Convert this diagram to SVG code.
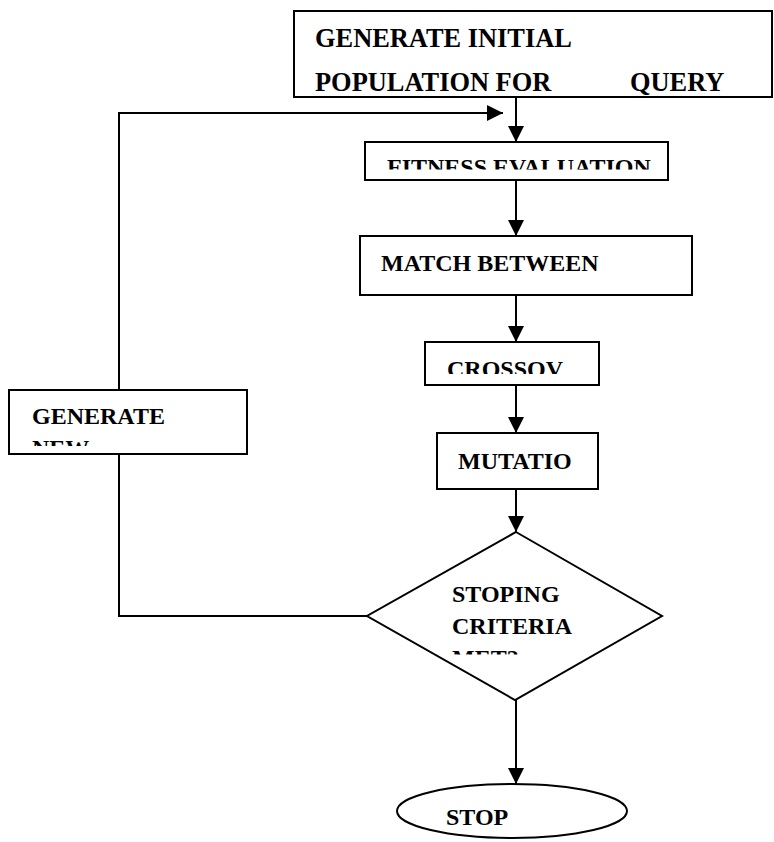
<svg xmlns="http://www.w3.org/2000/svg" width="774" height="842" viewBox="0 0 774 842">
<style>
.box{fill:#fff;stroke:#000;stroke-width:2}
.ln{fill:none;stroke:#000;stroke-width:2}
text{font-family:"Liberation Serif","Times New Roman","DejaVu Serif",serif;font-weight:bold;font-size:24px;fill:#000}
.tl{font-size:26.4px}
</style>
<defs>
<marker id="ah" viewBox="0 0 16 16" refX="16" refY="8" markerWidth="16" markerHeight="16" markerUnits="userSpaceOnUse" orient="auto">
<path d="M0,0 L16,8 L0,16 Z" fill="#000"/>
</marker>
<clipPath id="cFit"><rect x="365" y="143" width="302" height="26.5"/></clipPath>
<clipPath id="cMatch"><rect x="361" y="237" width="330" height="49"/></clipPath>
<clipPath id="cCross"><rect x="426" y="343" width="172" height="31"/></clipPath>
<clipPath id="cGen"><rect x="10" y="391" width="236" height="55"/></clipPath>
<clipPath id="cDia"><rect x="380" y="570" width="260" height="84.5"/></clipPath>
</defs>
<g id="connectors">
<line class="ln" x1="516" y1="97" x2="516" y2="142" marker-end="url(#ah)"/>
<polyline class="ln" points="119,390 119,113 503,113" marker-end="url(#ah)"/>
<line class="ln" x1="516" y1="180" x2="516" y2="236" marker-end="url(#ah)"/>
<line class="ln" x1="516" y1="295" x2="516" y2="342" marker-end="url(#ah)"/>
<line class="ln" x1="516" y1="385" x2="516" y2="433" marker-end="url(#ah)"/>
<line class="ln" x1="516" y1="489" x2="516" y2="532" marker-end="url(#ah)"/>
<polyline class="ln" points="367,616 119,616 119,454"/>
<line class="ln" x1="516" y1="700" x2="516" y2="784" marker-end="url(#ah)"/>
</g>
<g id="init">
<rect class="box" x="294" y="11" width="478" height="86"/>
<text class="tl" x="315" y="47">GENERATE INITIAL</text>
<text class="tl" x="315" y="91">POPULATION FOR</text>
<text class="tl" x="630" y="91">QUERY</text>
</g>
<g id="fitness">
<rect class="box" x="365" y="142" width="303" height="38"/>
<text x="387" y="175" clip-path="url(#cFit)">FITNESS EVALUATION</text>
</g>
<g id="match">
<rect class="box" x="360" y="236" width="332" height="59"/>
<g clip-path="url(#cMatch)">
<text x="381" y="271">MATCH BETWEEN</text>
<text x="387" y="301">QUERY AND</text>
</g>
</g>
<g id="crossover">
<rect class="box" x="425" y="342" width="174" height="43"/>
<text x="447" y="377" clip-path="url(#cCross)">CROSSOV</text>
</g>
<g id="mutation">
<rect class="box" x="437" y="433" width="161" height="56"/>
<text x="458" y="468.5">MUTATIO</text>
</g>
<g id="generate-new">
<rect class="box" x="9" y="390" width="238" height="64"/>
<g clip-path="url(#cGen)">
<text x="32" y="424">GENERATE</text>
<text x="32" y="456">NEW</text>
</g>
</g>
<g id="decision">
<polygon class="box" points="516,532 662,616 515,700 367,616"/>
<g clip-path="url(#cDia)">
<text x="452" y="602">STOPING</text>
<text x="452" y="634">CRITERIA</text>
<text x="452" y="666">MET?</text>
</g>
</g>
<g id="stop">
<ellipse class="box" cx="512" cy="811" rx="115" ry="27"/>
<text x="446" y="825">STOP</text>
</g>
</svg>
